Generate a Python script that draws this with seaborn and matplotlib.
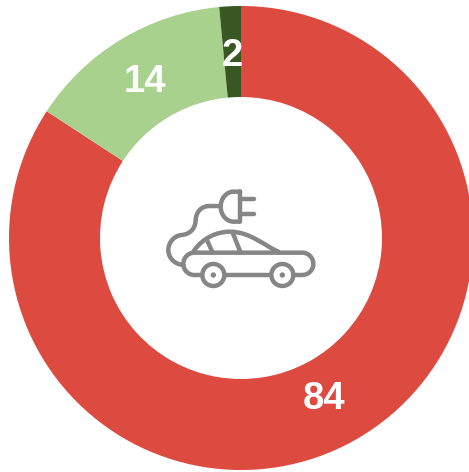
import numpy as np
import seaborn as sns
import matplotlib.pyplot as plt
from matplotlib.path import Path
from matplotlib.patches import PathPatch, Circle

labels = ["84", "14", "2"]
values = [84.2, 14.3, 1.5]
colors = ["#DD4A40", "#A9D18E", "#385723"]

sns.set_theme(style="white")
plt.rcParams["font.family"] = ["Liberation Sans", "DejaVu Sans"]

W, H = 469, 472
CX, CY = 241, H - 238
fig = plt.figure(figsize=(W / 100, H / 100), dpi=100)
ax = fig.add_axes([0, 0, 1, 1])

ax.pie(
    values,
    colors=colors,
    startangle=90,
    counterclock=False,
    center=(CX, CY),
    radius=232,
    wedgeprops={"width": 91, "linewidth": 0},
    frame=True,
)
ax.set_xlim(0, W)
ax.set_ylim(0, H)
ax.set_aspect("equal")
ax.axis("off")

# labels, pixel positions from the picture
label_xy = [(324, 399), (145, 82), (232, 56)]
for txt, (x, y) in zip(labels, label_xy):
    ax.text(x, H - y, txt, color="white", fontsize=27.5, fontweight="bold",
            ha="center", va="center")


# -----------------------------------------------------------------
# Car icon in the hole, traced from the 3x crop at (150, 170)
# -----------------------------------------------------------------
ICON = "#868686"
LW = 3.2


def px(zx, zy):
    return (150 + zx / 3, H - (170 + zy / 3))


def stroke(points, codes=None):
    verts = [px(*p) for p in points]
    if codes is None:
        codes = [Path.MOVETO] + [Path.LINETO] * (len(verts) - 1)
    ax.add_patch(PathPatch(Path(verts, codes), fill=False, edgecolor=ICON,
                           linewidth=LW, capstyle="round", joinstyle="round"))


M, L, C = Path.MOVETO, Path.LINETO, Path.CURVE4

# plug head and prongs
stroke([(270, 65), (250, 65), (230, 65), (212, 85), (212, 110),
        (212, 135), (230, 155), (250, 155), (270, 155), (270, 65)],
       [M, L, C, C, C, C, C, C, L, L])
stroke([(270, 88), (312, 88)])
stroke([(270, 132), (312, 132)])

# cable
stroke([(212, 108), (178, 108), (155, 108), (138, 125), (137, 150),
        (136, 178), (118, 193), (95, 195),
        (70, 197), (55, 220), (55, 240),
        (55, 265), (75, 283), (100, 285)],
       [M, L, C, C, C, C, C, C, C, C, C, C, C, C])

# body, broken by the wheels
stroke([(155, 315), (133, 315), (115, 315), (100, 300), (100, 282),
        (100, 263), (115, 248), (133, 248), (457, 248),
        (475, 248), (490, 263), (490, 282),
        (490, 300), (475, 315), (457, 315), (432, 315)],
       [M, L, C, C, C, C, C, C, L, C, C, C, C, C, C, L])
stroke([(225, 315), (362, 315)])

# roof and window pillars
stroke([(130, 245), (160, 200), (205, 185), (240, 185),
        (300, 185), (345, 228), (385, 245)],
       [M, C, C, C, C, C, C])
stroke([(170, 208), (188, 248)])
stroke([(248, 188), (272, 248)])

# wheels
for zx in [190, 397]:
    c = px(zx, 315)
    ax.add_patch(Circle(c, 11, fill=False, edgecolor=ICON, linewidth=LW))
    ax.add_patch(Circle(c, 2.7, color=ICON, linewidth=0))

fig.savefig("out.png", dpi=100)
